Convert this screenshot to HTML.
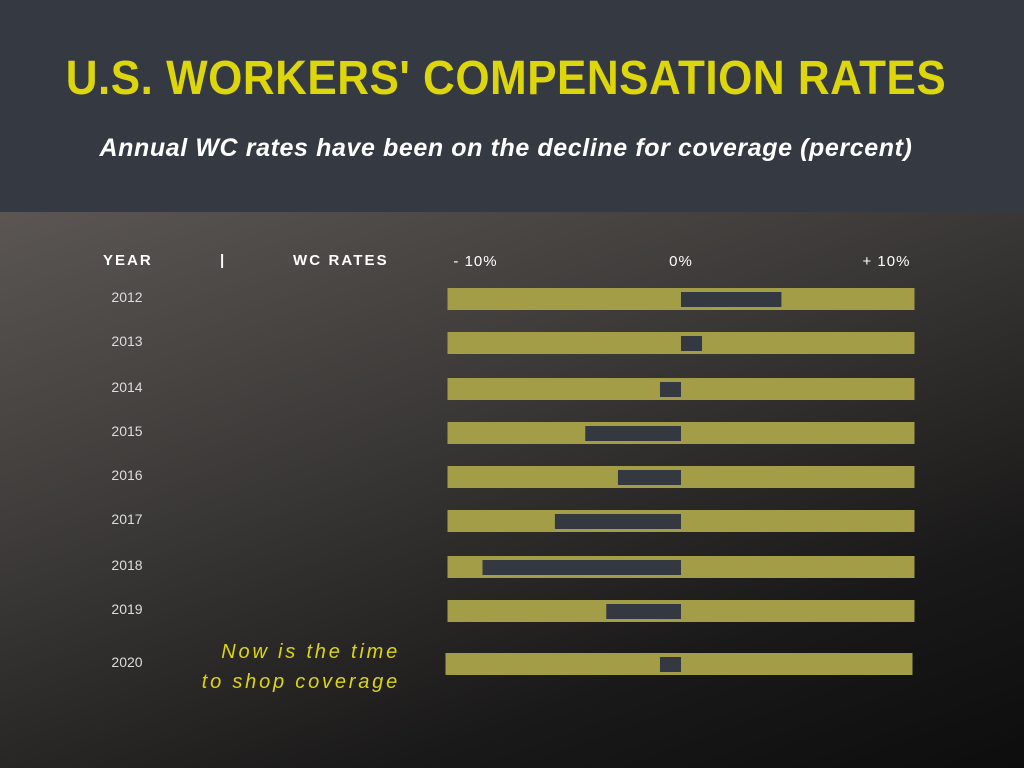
<!DOCTYPE html>
<html><head><meta charset="utf-8"><style>
body{margin:0;width:1024px;height:768px;overflow:hidden;font-family:"Liberation Sans",sans-serif}
#hdr{position:absolute;left:0;top:0;width:1024px;height:212px;background:#353a42}
#main{position:absolute;left:0;top:212px;width:1024px;height:556px;background:linear-gradient(160deg,#5b5653 0%,#3a3836 40%,#1a1919 75%,#0d0d0d 100%)}
.t{position:absolute;white-space:nowrap}
</style></head><body>
<div id="hdr"></div>
<div id="main"></div>
<div class="t" style="left:0;width:1012px;text-align:center;top:51px;font-size:44px;font-weight:bold;color:#dcd60a;letter-spacing:0.5px;transform:scaleY(1.1);transform-origin:506px 0">U.S. WORKERS' COMPENSATION RATES</div>
<div class="t" style="left:0;width:1012px;text-align:center;top:134px;font-size:25px;font-weight:bold;font-style:italic;color:#fff;letter-spacing:0.6px">Annual WC rates have been on the decline for coverage (percent)</div>
<div class="t" style="left:103px;top:252px;font-size:15px;font-weight:bold;color:#fff;letter-spacing:2px">YEAR</div>
<div class="t" style="left:220px;top:252px;font-size:15px;font-weight:bold;color:#fff">|</div>
<div class="t" style="left:293px;top:252px;font-size:15px;font-weight:bold;color:#fff;letter-spacing:2.1px">WC RATES</div>
<div class="t" style="left:180px;width:220px;top:637px;font-size:20px;font-style:italic;color:#dcd60a;letter-spacing:2.8px;text-align:right;line-height:30px">Now is the time<br>to shop coverage</div>
<svg id="chart" width="1024" height="768" style="position:absolute;left:0;top:0"></svg>
<script>
const years=["2012","2013","2014","2015","2016","2017","2018","2019","2020"];
const rates=[4.3,0.9,-0.9,-4.1,-2.7,-5.4,-8.5,-3.2,-0.9];
const tickValues=[-10,0,10];
const tickLabels=["- 10%","0%","+ 10%"];
const rowY=[288,332,378,422,466,510,556,600,653];
const svg=document.getElementById('chart');
const NS='http://www.w3.org/2000/svg';
const x=v=>681+v*23.35;
function mk(t,a){const e=document.createElementNS(NS,t);for(const k in a)e.setAttribute(k,a[k]);svg.appendChild(e);return e;}
tickValues.forEach((v,i)=>{const e=mk('text',{x:x(v*0.88),y:266,'text-anchor':'middle',fill:'#fff','font-size':15,'font-family':'Liberation Sans, sans-serif','letter-spacing':1});e.textContent=tickLabels[i];

});
years.forEach((y,i)=>{const off=i===8?-2:0;const top=rowY[i];
const lb=mk('text',{x:127,y:top+14,'text-anchor':'middle',fill:'#ddd','font-size':14,'font-family':'Liberation Sans, sans-serif'});lb.textContent=y;


const tr=mk('rect',{x:x(-10)+off,y:top,width:x(10)-x(-10),height:22,fill:'#a39d47'});


const v=rates[i];const x0=Math.min(x(0),x(v));
const b=mk('rect',{x:x0,y:top+4,width:Math.abs(x(v)-x(0)),height:15,fill:'#343840'});

});
</script>
</body></html>
